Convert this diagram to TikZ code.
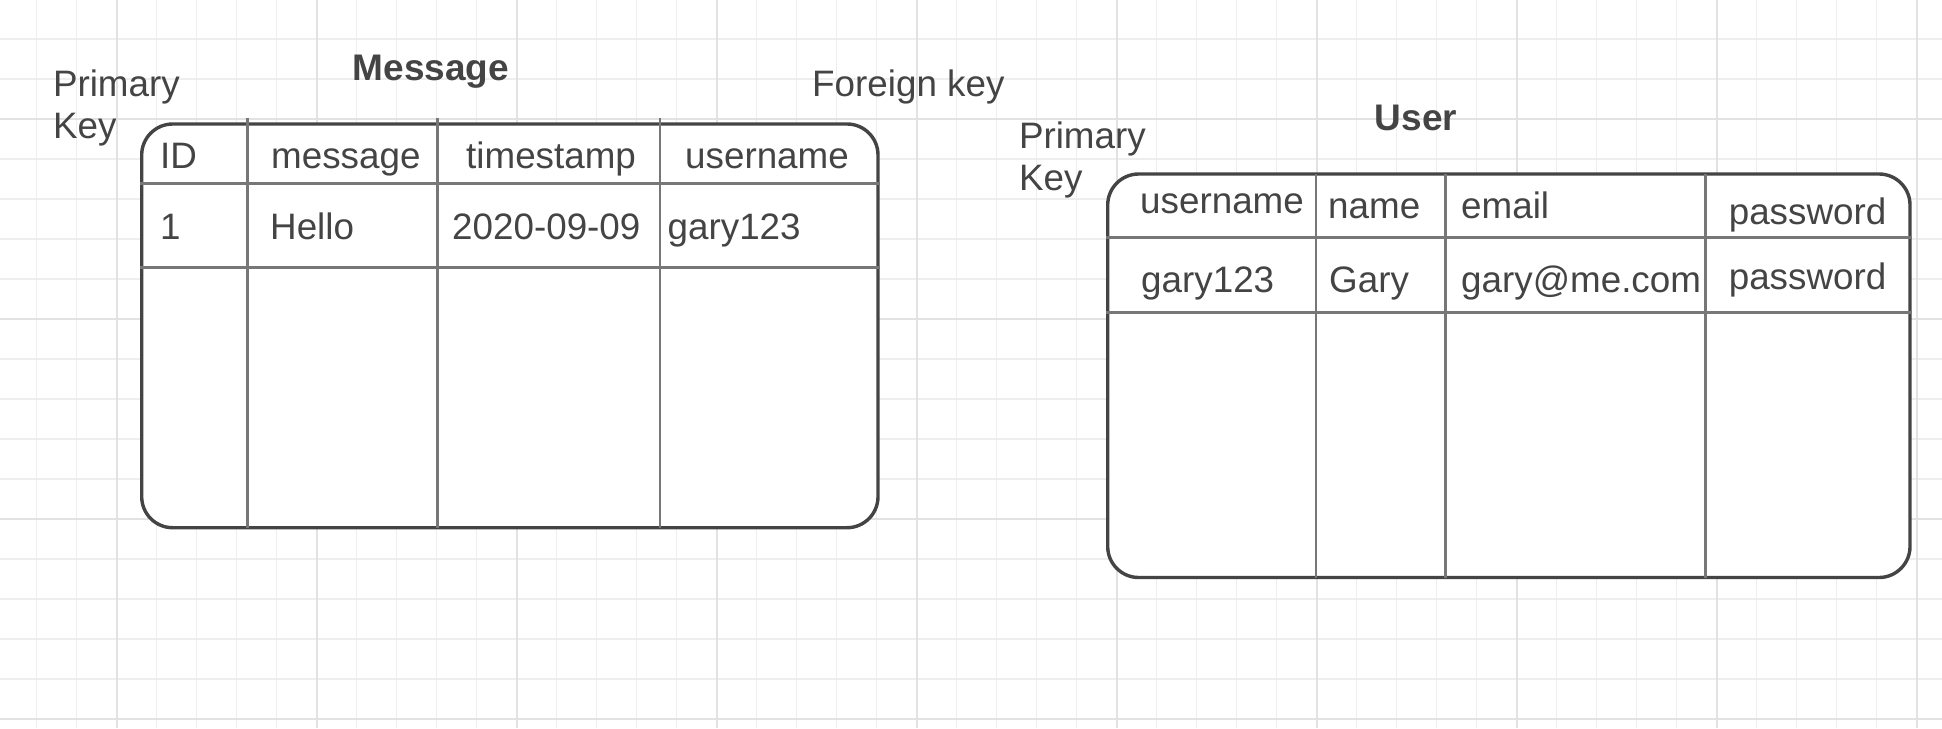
\documentclass[tikz,border=0pt]{standalone}
\usepackage{fontspec}
\setmainfont{Liberation Sans}
\definecolor{inkc}{HTML}{444444}
\definecolor{framec}{HTML}{444444}
\definecolor{divc}{HTML}{777777}
\definecolor{gminor}{HTML}{EEEEEE}
\definecolor{gmajor}{HTML}{E2E2E2}
\tikzset{
  gridminor/.style={draw=gminor, line width=1.4pt},
  gridmajor/.style={draw=gmajor, line width=1.6pt},
  tablebox/.style={draw=framec, fill=white, line width=3.4pt, rounded corners=31pt, inner sep=0pt},
  divider/.style={draw=divc, line width=2.8pt},
  lbl/.style={text=inkc, inner sep=0pt, font=\fontsize{36.8}{42}\selectfont},
  ttl/.style={text=inkc, inner sep=0pt, font=\fontsize{37}{42}\selectfont\bfseries},
}
\begin{document}
\begin{tikzpicture}[x=1pt, y=-1pt]
\useasboundingbox (0,0) rectangle (1942,728);
\fill[white] (0,0) rectangle (1942,728);
% grid
\foreach \k in {0,...,47} { \draw[gridminor] (36.7+40*\k,0) -- (36.7+40*\k,728); }
\foreach \k in {1,...,18} { \draw[gridminor] (0,-1+40*\k) -- (1942,-1+40*\k); }
\foreach \k in {0,...,9} { \draw[gridmajor] (116.7+200*\k,0) -- (116.7+200*\k,728); }
\foreach \k in {0,...,3} { \draw[gridmajor] (0,119+200*\k) -- (1942,119+200*\k); }

% Message table
\node[tablebox, minimum width=736.3pt, minimum height=403.7pt] (msg) at (509.85,325.85) {};
\foreach \x in {247.7,437.7,660} { \draw[divider] (\x,118) -- (\x,527.7); }
\foreach \y in {183.3,267.7} { \draw[divider] (msg.west |- 0,\y) -- (msg.east |- 0,\y); }

% User table
\node[tablebox, minimum width=802.3pt, minimum height=403.5pt] (usr) at (1508.85,375.75) {};
\foreach \x in {1316,1445.7,1705.7} { \draw[divider] (\x,174) -- (\x,577.5); }
\foreach \y in {237.7,312.3} { \draw[divider] (usr.west |- 0,\y) -- (usr.east |- 0,\y); }

% titles and notes
\node[ttl, anchor=base] (msgtitle) at (431,80.7) {Message};
\node[ttl, anchor=base] (usrtitle) at (1416,130) {User};
\node[lbl, anchor=base west] (pk1) at (52.8,96.7) {\begin{tabular}[t]{@{}l@{}}Primary\\Key\end{tabular}};
\node[lbl, anchor=base west] (fk) at (812,96) {Foreign key};
\node[lbl, anchor=base west] (pk2) at (1018.8,148.3) {\begin{tabular}[t]{@{}l@{}}Primary\\Key\end{tabular}};

% Message cells
\node[lbl, anchor=base west] (m11) at (160,168) {ID};
\node[lbl, anchor=base west] (m12) at (271,168) {message};
\node[lbl, anchor=base west] (m13) at (466,168) {timestamp};
\node[lbl, anchor=base west] (m14) at (685,168) {username};
\node[lbl, anchor=base west] (m21) at (160,239) {1};
\node[lbl, anchor=base west] (m22) at (270,239) {Hello};
\node[lbl, anchor=base west] (m23) at (452,239) {2020-09-09};
\node[lbl, anchor=base west] (m24) at (667.5,239) {gary123};

% User cells
\node[lbl, anchor=base west] (u11) at (1140,213.3) {username};
\node[lbl, anchor=base west] (u12) at (1328,218.3) {name};
\node[lbl, anchor=base west] (u13) at (1461,218.3) {email};
\node[lbl, anchor=base west] (u14) at (1728.6,224) {password};
\node[lbl, anchor=base west] (u21) at (1141,292.7) {gary123};
\node[lbl, anchor=base west] (u22) at (1329,292.7) {Gary};
\node[lbl, anchor=base west] (u23) at (1461,292.7) {gary@me.com};
\node[lbl, anchor=base west] (u24) at (1728.6,289.3) {password};
\end{tikzpicture}
\end{document}
